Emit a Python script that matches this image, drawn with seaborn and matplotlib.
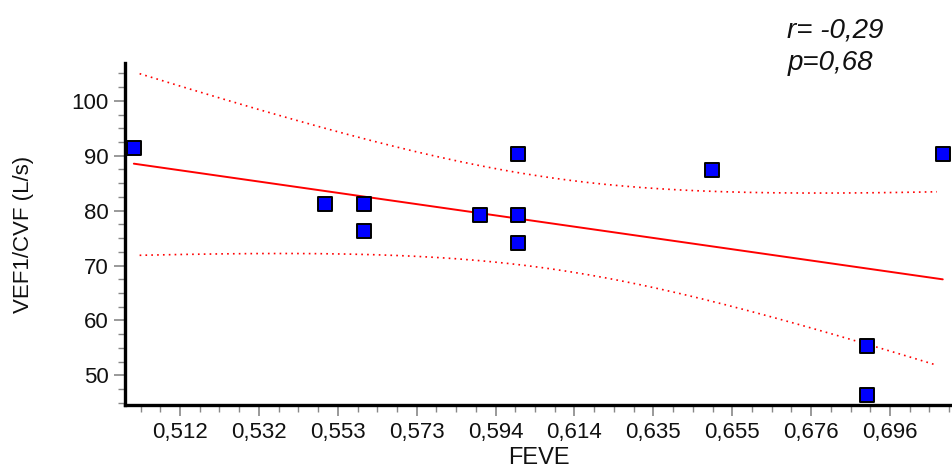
import numpy as np
import pandas as pd
import seaborn as sns
import matplotlib.pyplot as plt
from matplotlib.ticker import AutoMinorLocator, FixedLocator

# Values
feve = [0.5000, 0.5497, 0.5598, 0.5598, 0.5899, 0.5998, 0.5998, 0.5998, 0.6502, 0.6904, 0.6904, 0.7102]
vef_cvf = [91.4, 81.2, 81.2, 76.3, 79.2, 90.3, 79.2, 74.1, 87.4, 55.3, 46.4, 90.4]
x_tick_labels = ['0,512', '0,532', '0,553', '0,573', '0,594', '0,614', '0,635', '0,655', '0,676', '0,696']
y_ticks = [50, 60, 70, 80, 90, 100]
stats_text = ['r= -0,29', 'p=0,68']

data = pd.DataFrame({'FEVE': feve, 'VEF': vef_cvf})

sns.set_style("white")
plt.rcParams['font.family'] = ['Liberation Sans', 'DejaVu Sans']

fig = plt.figure(figsize=(9.52, 4.69), dpi=100)
ax = fig.add_axes([0.1313, 0.1365, 0.8687, 0.7292])

# Regression line
sns.regplot(data=data, x='FEVE', y='VEF', scatter=False, ci=None, ax=ax,
            color='#ff0000', line_kws={'lw': 1.4})

# 95% confidence band of the mean (analytic, t(0.975, 10) = 2.228)
x = data['FEVE'].to_numpy()
y = data['VEF'].to_numpy()
slope, intercept = np.polyfit(x, y, 1)
resid = y - (slope * x + intercept)
s = np.sqrt(np.sum(resid ** 2) / (len(x) - 2))
xg = np.linspace(x.min() + 0.0015, x.max() - 0.0015, 200)
half = 2.228 * s * np.sqrt(1 / len(x) + (xg - x.mean()) ** 2 / np.sum((x - x.mean()) ** 2))
fit = slope * xg + intercept
band = pd.DataFrame({'x': np.concatenate([xg, xg]),
                     'y': np.concatenate([fit + half, fit - half]),
                     'side': ['upper'] * len(xg) + ['lower'] * len(xg)})
sns.lineplot(data=band, x='x', y='y', units='side', estimator=None, ax=ax,
             color='#ff0000', lw=1.2, linestyle=(0, (1, 2.5)))

# Points
sns.scatterplot(data=data, x='FEVE', y='VEF', marker='s', s=100, color='#0000ff',
                edgecolor='black', linewidth=1.4, ax=ax, zorder=5, clip_on=False)

ax.set_xlim(0.4977, 0.7126)
ax.set_ylim(44.6, 106.9)

x_ticks = np.linspace(0.512, 0.6965, len(x_tick_labels))
ax.xaxis.set_major_locator(FixedLocator(x_ticks))
ax.set_xticklabels(x_tick_labels)
ax.xaxis.set_minor_locator(AutoMinorLocator(4))
ax.set_yticks(y_ticks)
ax.yaxis.set_minor_locator(AutoMinorLocator(4))

ax.tick_params(which='major', direction='out', length=8, width=1.2, color='#888888',
               labelsize=16, labelcolor='#111111', pad=4, bottom=True, left=True)
ax.tick_params(which='minor', direction='out', length=5, width=1.0, color='#888888',
               bottom=True, left=True)

for side in ['top', 'right']:
    ax.spines[side].set_visible(False)
for side in ['left', 'bottom']:
    ax.spines[side].set_linewidth(2.4)
    ax.spines[side].set_color('black')

ax.set_xlabel('FEVE', fontsize=17, color='#111111', labelpad=3)
ax.set_ylabel('VEF1/CVF (L/s)', fontsize=16, color='#111111', labelpad=27)
ax.grid(False)

fig.text(0.827, 0.919, stats_text[0], fontsize=20, style='italic', va='baseline', color='#111111')
fig.text(0.827, 0.851, stats_text[1], fontsize=20, style='italic', va='baseline', color='#111111')

plt.savefig('out.png', dpi=100)
plt.close()
